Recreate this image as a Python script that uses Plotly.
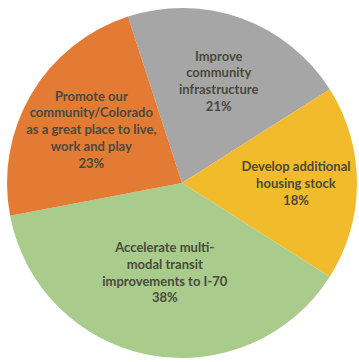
import plotly.graph_objects as go

labels = [
    "Improve community infrastructure",
    "Develop additional housing stock",
    "Accelerate multi-modal transit improvements to I-70",
    "Promote our community/Colorado as a great place to live, work and play",
]
label_lines = [
    "Improve<br>community<br>infrastructure",
    "Develop additional<br>housing stock",
    "Accelerate multi-<br>modal transit<br>improvements to I-70",
    "Promote our<br>community/Colorado<br>as a great place to live,<br>work and play",
]
values = [21, 18, 38, 23]
colors = ["#A6A6A6", "#F1BB2B", "#A9CB8B", "#E37B35"]

fig = go.Figure(go.Pie(
    labels=labels,
    values=values,
    customdata=label_lines,
    texttemplate="<b>%{customdata}<br>%{value}%</b>",
    textposition="inside",
    insidetextorientation="horizontal",
    sort=False,
    direction="clockwise",
    rotation=-18,
    marker=dict(colors=colors, line=dict(width=0)),
    textfont=dict(family="Lato", size=13, color="#4A4A3C"),
    showlegend=False,
    hoverinfo="label+percent",
    domain=dict(x=[7/359, 357/359], y=[4/362, 354/362]),
))
fig.update_layout(
    width=359, height=362,
    margin=dict(l=0, r=0, t=0, b=0),
    paper_bgcolor="white",
    uniformtext=dict(minsize=13, mode="show"),
)
fig.write_html(
    "out.html",
    config={"displayModeBar": False},
    post_script="document.body.style.margin='0';document.body.style.overflow='hidden';",
)
